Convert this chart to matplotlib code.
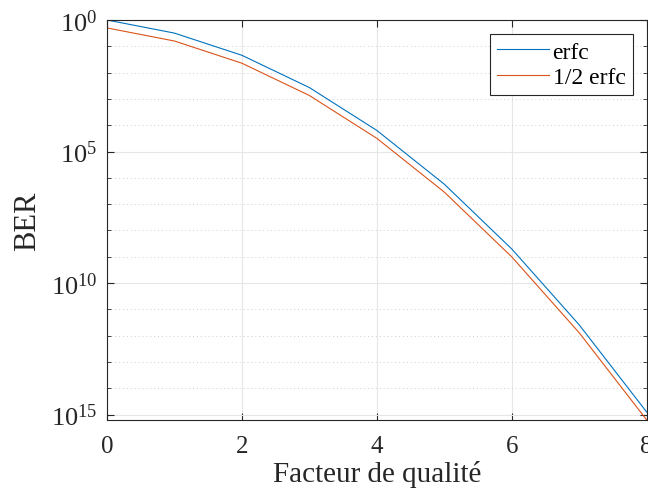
import matplotlib.pyplot as plt
from matplotlib.ticker import FixedLocator, FixedFormatter

# facteur de qualite Q et BER
q = [0, 1, 2, 3, 4, 5, 6, 7, 8]
ber_erfc = [1.0, 0.3173, 0.0455, 0.0027, 6.334e-5, 5.733e-7, 1.973e-9, 2.560e-12, 1.244e-15]
ber_half = [0.5, 0.1587, 0.02275, 0.00135, 3.167e-5, 2.867e-7, 9.866e-10, 1.280e-12, 6.221e-16]

ytick_vals = [1e-15, 1e-10, 1e-5, 1]
ytick_labels = ['$10^{15}$', '$10^{10}$', '$10^{5}$', '$10^{0}$']

plt.rcParams['font.family'] = ['Liberation Serif', 'DejaVu Serif']
plt.rcParams['mathtext.fontset'] = 'custom'
plt.rcParams['mathtext.rm'] = 'Liberation Serif'
plt.rcParams['mathtext.it'] = 'Liberation Serif:italic'

fig = plt.figure(figsize=(6.48, 5.02), dpi=100)
ax = fig.add_axes([0.165, 0.1614, 0.833, 0.7968])

ax.semilogy(q, ber_erfc, color='#0072BD', lw=0.8, label='erfc')
ax.semilogy(q, ber_half, color='#D95319', lw=0.8, label='1/2 erfc')

ax.set_xlim(0, 8)
ax.set_ylim(min(ber_half), 1)
ax.set_xticks([0, 2, 4, 6, 8])
ax.yaxis.set_major_locator(FixedLocator(ytick_vals))
ax.yaxis.set_major_formatter(FixedFormatter(ytick_labels))
ax.yaxis.set_minor_locator(FixedLocator([10.0 ** -k for k in range(16) if k % 5 != 0]))
ax.yaxis.set_minor_formatter(FixedFormatter([]))

ax.grid(True, which='major', color='#e6e6e6', lw=0.8, ls='-')
ax.grid(True, which='minor', axis='y', color='#cfcfcf', lw=0.7, ls=(0, (1, 3)))
ax.set_axisbelow(True)

for s in ax.spines.values():
    s.set_color('#262626')
    s.set_linewidth(0.8)
ax.tick_params(which='both', direction='in', top=True, right=True, colors='#262626')
ax.tick_params(axis='x', pad=11, labelsize=18)
ax.tick_params(axis='y', pad=7, labelsize=19)
ax.tick_params(which='major', length=5)
ax.tick_params(which='minor', length=3)

ax.set_xlabel('Facteur de qualité', fontsize=21, color='#262626', labelpad=2)
ax.set_ylabel('BER', fontsize=22, color='#262626', labelpad=6)

leg = ax.legend(loc='upper right', fontsize=17, fancybox=False, framealpha=1,
                edgecolor='#262626', handlelength=2.2, borderaxespad=0.6,
                borderpad=0.3, labelspacing=0.15, handletextpad=0.15)
leg.get_frame().set_linewidth(0.8)

fig.savefig('out.png', dpi=100)
